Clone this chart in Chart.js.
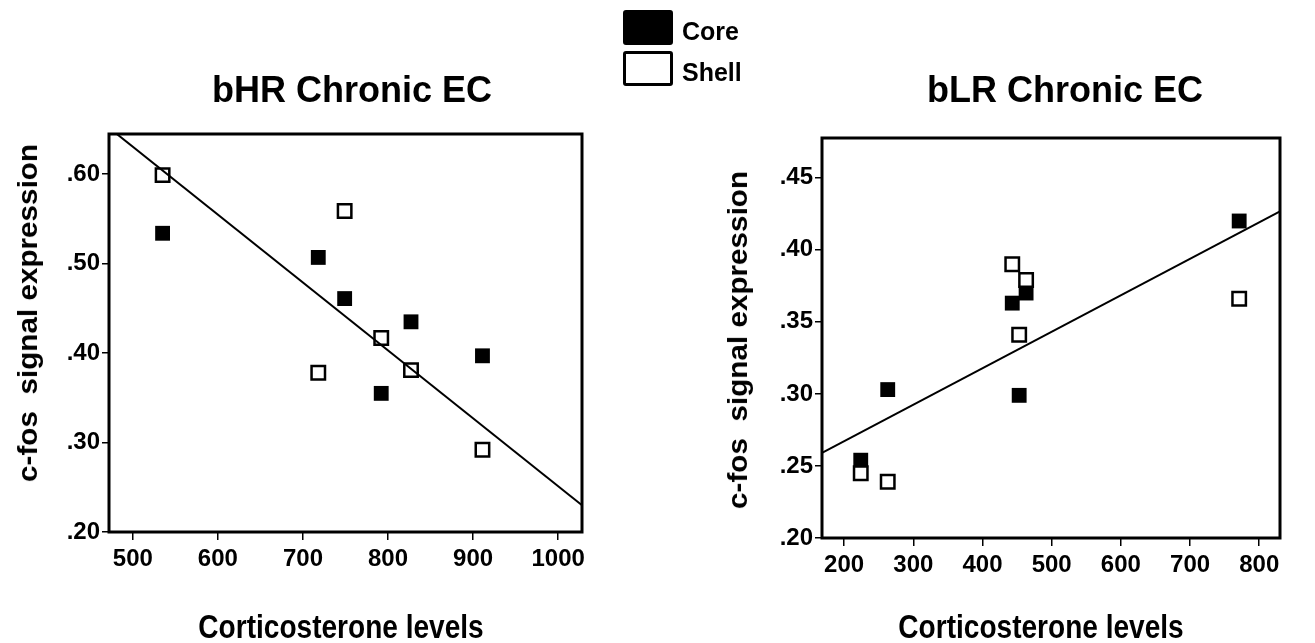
<!DOCTYPE html>
<html>
<head>
<meta charset="utf-8">
<script src="https://cdn.jsdelivr.net/npm/chart.js@4.4.1/dist/chart.umd.min.js"></script>
<style>
  html, body { margin: 0; padding: 0; background: #fff; }
  #wrap { position: relative; width: 1315px; height: 643px; overflow: hidden; background: #fff; }
  canvas { position: absolute; top: 0; }
  .txt { position: absolute; font-family: "Liberation Sans", Arial, sans-serif; font-weight: bold; color: #000; white-space: pre; line-height: 1; }
  .box { position: absolute; box-sizing: border-box; border-radius: 3px; }
</style>
</head>
<body>
<div id="wrap">
  <canvas id="c1" width="657" height="643" style="left:0px"></canvas>
  <canvas id="c2" width="658" height="643" style="left:657px"></canvas>
</div>
<script>
// ---------- DATA ----------
const seriesNames = ["Core", "Shell"];

// bHR Chronic EC
const hrCoreX  = [535, 718, 749, 827, 792, 911];
const hrCoreY  = [0.534, 0.507, 0.461, 0.435, 0.355, 0.397];
const hrShellX = [535, 749, 792, 718, 827, 911];
const hrShellY = [0.599, 0.559, 0.417, 0.378, 0.381, 0.292];
const hrFitX   = [472, 1028];
const hrFitY   = [0.652, 0.230];
const hrXTicks = [500, 600, 700, 800, 900, 1000];
const hrYTicks = [0.20, 0.30, 0.40, 0.50, 0.60];

// bLR Chronic EC
const lrCoreX  = [771, 443, 463, 453, 263, 224];
const lrCoreY  = [0.420, 0.363, 0.370, 0.299, 0.303, 0.254];
const lrShellX = [443, 463, 453, 771, 224, 263];
const lrShellY = [0.390, 0.379, 0.341, 0.366, 0.245, 0.239];
const lrFitX   = [168, 830];
const lrFitY   = [0.259, 0.4266];
const lrXTicks = [200, 300, 400, 500, 600, 700, 800];
const lrYTicks = [0.20, 0.25, 0.30, 0.35, 0.40, 0.45];

const titles = ["bHR Chronic EC", "bLR Chronic EC"];
const xTitle = "Corticosterone levels";
const yTitle = "c-fos  signal expression";

// ---------- HELPERS ----------
const pts = (xs, ys) => xs.map((x, i) => ({ x: x, y: ys[i] }));
const FONT = "'Liberation Sans', Arial, sans-serif";

const boxPlugin = {
  id: 'frameBox',
  afterDraw(chart) {
    const a = chart.chartArea, ctx = chart.ctx;
    ctx.save();
    ctx.strokeStyle = '#000';
    ctx.lineWidth = 3;
    ctx.strokeRect(a.left, a.top, a.right - a.left, a.bottom - a.top);
    ctx.restore();
  }
};

function makeChart(id, core, shell, fit, xr, yr, xTicks, yTicks, yDec, pad, yW, xH) {
  return new Chart(document.getElementById(id), {
    type: 'scatter',
    data: {
      datasets: [
        { label: 'fit', data: fit, type: 'line', showLine: true, borderColor: '#000', borderWidth: 2,
          pointRadius: 0, fill: false, order: 0 },
        { label: seriesNames[1], data: shell, pointStyle: 'rect', pointRadius: 9.5,
          backgroundColor: '#fff', borderColor: '#000', borderWidth: 2.5, order: 1 },
        { label: seriesNames[0], data: core, pointStyle: 'rect', pointRadius: 10.5,
          backgroundColor: '#000', borderColor: '#000', borderWidth: 0, order: 2 }
      ]
    },
    options: {
      responsive: false,
      animation: false,
      events: [],
      layout: { padding: pad },
      plugins: { legend: { display: false }, title: { display: false }, tooltip: { enabled: false } },
      scales: {
        x: {
          type: 'linear', min: xr[0], max: xr[1],
          afterBuildTicks(s) { s.ticks = xTicks.map(v => ({ value: v })); },
          afterFit(s) { s.height = xH; },
          grid: { drawOnChartArea: false, drawTicks: true, tickLength: 8, color: '#000', lineWidth: 1.5 },
          border: { display: false },
          ticks: { color: '#000', padding: 5, maxRotation: 0, autoSkip: false,
                   font: { family: FONT, weight: 'bold', size: 24 },
                   callback: v => String(v) }
        },
        y: {
          type: 'linear', min: yr[0], max: yr[1],
          afterBuildTicks(s) { s.ticks = yTicks.map(v => ({ value: v })); },
          afterFit(s) { s.width = yW; },
          grid: { drawOnChartArea: false, drawTicks: true, tickLength: 7, color: '#000', lineWidth: 1.5 },
          border: { display: false },
          ticks: { color: '#000', padding: 2, autoSkip: false,
                   font: { family: FONT, weight: 'bold', size: 24 },
                   callback: v => Number(v).toFixed(yDec).replace(/^0/, '') }
        }
      }
    },
    plugins: [boxPlugin]
  });
}

makeChart('c1', pts(hrCoreX, hrCoreY), pts(hrShellX, hrShellY), pts(hrFitX, hrFitY),
  [472, 1028], [0.20, 0.645], hrXTicks, hrYTicks, 2,
  { left: 0, right: 75, top: 134, bottom: 0 }, 109, 111);

makeChart('c2', pts(lrCoreX, lrCoreY), pts(lrShellX, lrShellY), pts(lrFitX, lrFitY),
  [168, 830], [0.20, 0.4776], lrXTicks, lrYTicks, 2,
  { left: 0, right: 35, top: 138, bottom: 0 }, 165, 105);

// ---------- TEXT ----------
const wrap = document.getElementById('wrap');
function addText(str, cx, baseline, size, extra) {
  const d = document.createElement('div');
  d.className = 'txt';
  d.textContent = str;
  d.style.fontSize = size + 'px';
  d.style.left = cx + 'px';
  d.style.top = (baseline - 0.8465 * size) + 'px';
  d.style.transform = 'translateX(-50%)' + (extra || '');
  wrap.appendChild(d);
  return d;
}
function addVText(str, cx, cy, size, sx) {
  const d = document.createElement('div');
  d.className = 'txt';
  d.textContent = str;
  d.style.fontSize = size + 'px';
  d.style.left = cx + 'px';
  d.style.top = cy + 'px';
  d.style.transform = 'translate(-50%,-50%) rotate(-90deg) scaleX(' + sx + ')';
  wrap.appendChild(d);
}
addText(titles[0], 352, 102, 36);
addText(titles[1], 1065, 102, 36);
addText(xTitle, 341, 638, 33, ' scaleX(0.85)');
addText(xTitle, 1041, 638, 33, ' scaleX(0.85)');
addVText(yTitle, 28, 313, 28, 1.06);
addVText(yTitle, 738, 340, 28, 1.06);

// legend
function addBox(x, y, w, h, filled) {
  const b = document.createElement('div');
  b.className = 'box';
  b.style.left = x + 'px'; b.style.top = y + 'px';
  b.style.width = w + 'px'; b.style.height = h + 'px';
  b.style.background = filled ? '#000' : '#fff';
  b.style.border = '3.5px solid #000';
  wrap.appendChild(b);
}
addBox(623, 10, 50, 35, true);
addBox(623, 51, 50, 35, false);
const l1 = addText(seriesNames[0], 0, 40, 25); l1.style.transform = 'none'; l1.style.left = '682px';
const l2 = addText(seriesNames[1], 0, 81, 25); l2.style.transform = 'none'; l2.style.left = '682px';
</script>
</body>
</html>
